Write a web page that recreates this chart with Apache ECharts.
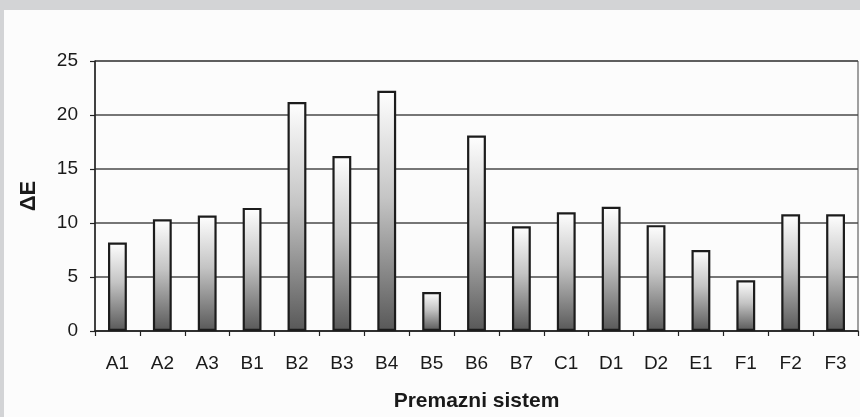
<!DOCTYPE html>
<html>
<head>
<meta charset="utf-8">
<script src="https://cdn.jsdelivr.net/npm/echarts@6/dist/echarts.min.js"></script>
<style>
html,body{margin:0;padding:0;background:#d3d4d6;width:860px;height:417px;overflow:hidden;}
#chart{position:absolute;left:4px;top:10px;width:856px;height:407px;background:#fcfcfc;}
</style>
</head>
<body>
<div id="chart"></div>
<script>
const categories = ["A1","A2","A3","B1","B2","B3","B4","B5","B6","B7","C1","D1","D2","E1","F1","F2","F3"];
const deltaE = [8.2,10.35,10.7,11.4,21.2,16.2,22.25,3.6,18.1,9.7,11.0,11.5,9.8,7.5,4.7,10.8,10.8];
const yTicks = {min:0, max:25, interval:5};
const xTitle = "Premazni sistem";
const yTitle = "ΔE";

const chart = echarts.init(document.getElementById('chart'));
const font = "Liberation Sans, Arial, sans-serif";
chart.setOption({
  animation:false,
  grid:{left:91, top:51, right:2, bottom:86, show:true, borderColor:'#444', borderWidth:1, backgroundColor:'transparent'},
  xAxis:{
    type:'category', data:categories,
    name:xTitle, nameLocation:'middle', nameGap:60,
    nameTextStyle:{fontFamily:font, fontSize:21, fontWeight:'bold', color:'#1a1a1a'},
    axisLine:{lineStyle:{color:'#222', width:1.5}},
    axisTick:{show:true, length:5, lineStyle:{color:'#222', width:1.2}},
    axisLabel:{fontFamily:font, fontSize:19, color:'#1a1a1a', margin:23},
    splitLine:{show:false}
  },
  yAxis:{
    type:'value', min:yTicks.min, max:yTicks.max, interval:yTicks.interval,
    name:yTitle, nameLocation:'middle', nameGap:55, nameRotate:90,
    nameTextStyle:{fontFamily:font, fontSize:22, fontWeight:'bold', color:'#1a1a1a'},
    axisLine:{show:true, lineStyle:{color:'#222', width:1.5}},
    axisTick:{show:true, length:5, lineStyle:{color:'#222', width:1.2}},
    axisLabel:{fontFamily:font, fontSize:19, color:'#1a1a1a', margin:17},
    splitLine:{lineStyle:{color:'#4a4a4a', width:1.6}}
  },
  series:[{
    type:'bar', data:deltaE, barWidth:'42%',
    itemStyle:{
      color:new echarts.graphic.LinearGradient(0,0,0,1,[
        {offset:0, color:'#ffffff'},
        {offset:0.45, color:'#c4c4c4'},
        {offset:1, color:'#585858'}
      ]),
      borderColor:'#1c1c1c', borderWidth:2.2
    }
  }]
});
</script>
</body>
</html>
